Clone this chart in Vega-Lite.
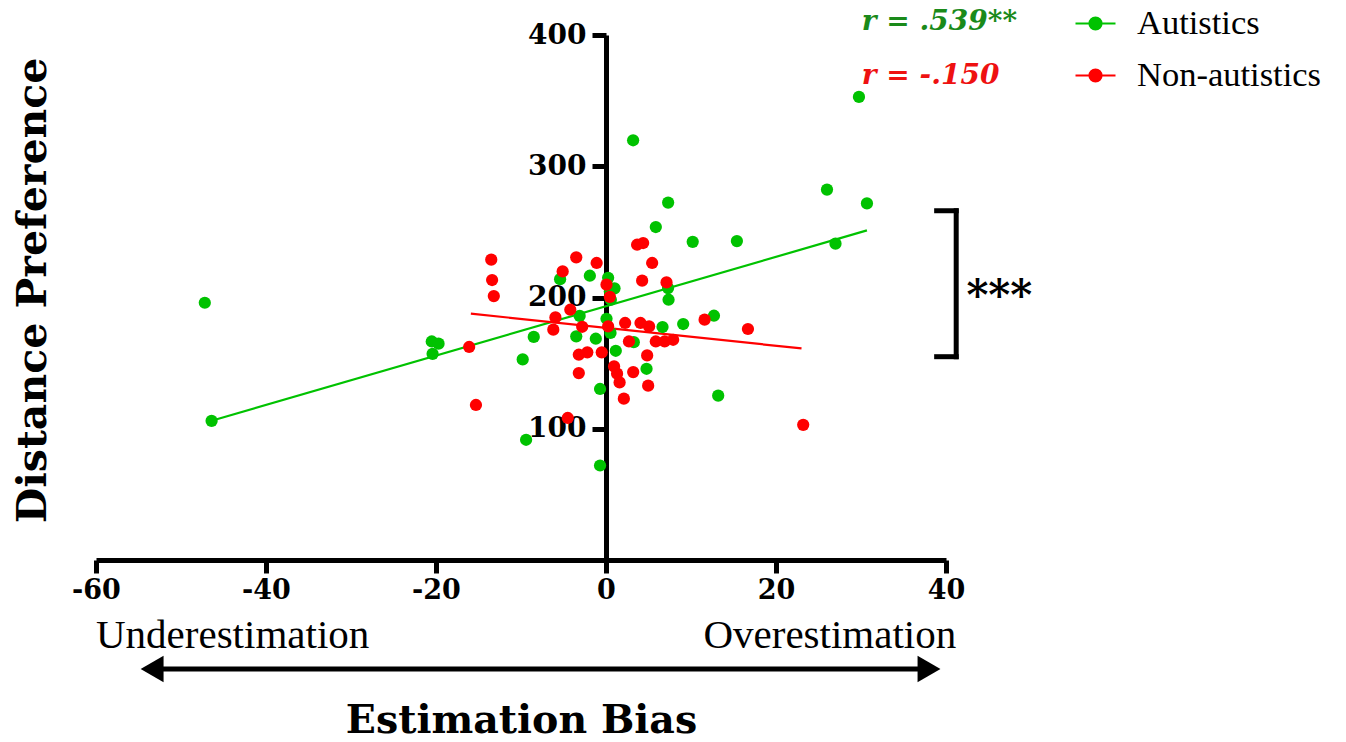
{
  "$schema": "https://vega.github.io/schema/vega-lite/v6.json",
  "autosize": "none",
  "width": 850,
  "height": 525,
  "padding": {"left": 96, "top": 35, "right": 400, "bottom": 182},
  "background": "white",
  "config": {"view": {"stroke": null}},
  "datasets": {
    "pts": [
      {"group": "Autistics", "bias": -47.2, "pref": 196},
      {"group": "Autistics", "bias": -46.4, "pref": 106},
      {"group": "Autistics", "bias": -20.5, "pref": 166.5},
      {"group": "Autistics", "bias": -19.7, "pref": 164.8},
      {"group": "Autistics", "bias": -20.4, "pref": 157},
      {"group": "Autistics", "bias": -9.8, "pref": 152.8},
      {"group": "Autistics", "bias": -8.5, "pref": 170},
      {"group": "Autistics", "bias": -5.4, "pref": 214},
      {"group": "Autistics", "bias": -1.9, "pref": 216.6},
      {"group": "Autistics", "bias": -3.1, "pref": 186},
      {"group": "Autistics", "bias": -3.5, "pref": 170.4},
      {"group": "Autistics", "bias": -1.2, "pref": 168.6},
      {"group": "Autistics", "bias": 0.25, "pref": 215},
      {"group": "Autistics", "bias": 1.0, "pref": 207},
      {"group": "Autistics", "bias": 0.45, "pref": 204.6},
      {"group": "Autistics", "bias": 0.57, "pref": 198.3},
      {"group": "Autistics", "bias": 0.06, "pref": 183.8},
      {"group": "Autistics", "bias": 0.53, "pref": 173},
      {"group": "Autistics", "bias": 1.15, "pref": 159.4},
      {"group": "Autistics", "bias": -0.7, "pref": 130.3},
      {"group": "Autistics", "bias": -9.4, "pref": 91.6},
      {"group": "Autistics", "bias": -0.7, "pref": 72},
      {"group": "Autistics", "bias": 3.27, "pref": 166},
      {"group": "Autistics", "bias": 4.77, "pref": 145.7},
      {"group": "Autistics", "bias": 5.86, "pref": 253.7},
      {"group": "Autistics", "bias": 10.2, "pref": 242.4},
      {"group": "Autistics", "bias": 7.3, "pref": 207.2},
      {"group": "Autistics", "bias": 7.36, "pref": 198.3},
      {"group": "Autistics", "bias": 6.65, "pref": 177.5},
      {"group": "Autistics", "bias": 9.08, "pref": 179.8},
      {"group": "Autistics", "bias": 3.19, "pref": 319.8},
      {"group": "Autistics", "bias": 7.31, "pref": 272.3},
      {"group": "Autistics", "bias": 15.4, "pref": 243},
      {"group": "Autistics", "bias": 26.0, "pref": 282.2},
      {"group": "Autistics", "bias": 30.7, "pref": 271.7},
      {"group": "Autistics", "bias": 27.0, "pref": 241},
      {"group": "Autistics", "bias": 12.7, "pref": 186.1},
      {"group": "Autistics", "bias": 13.2, "pref": 125.2},
      {"group": "Autistics", "bias": 29.76, "pref": 352.8},
      {"group": "Non-autistics", "bias": -13.5, "pref": 228.8},
      {"group": "Non-autistics", "bias": -13.4, "pref": 213.3},
      {"group": "Non-autistics", "bias": -13.2, "pref": 201.1},
      {"group": "Non-autistics", "bias": -16.1, "pref": 162.3},
      {"group": "Non-autistics", "bias": -15.3, "pref": 118.1},
      {"group": "Non-autistics", "bias": -3.5, "pref": 230.6},
      {"group": "Non-autistics", "bias": -5.1, "pref": 219.9},
      {"group": "Non-autistics", "bias": -1.1, "pref": 226.3},
      {"group": "Non-autistics", "bias": -4.2, "pref": 190.7},
      {"group": "Non-autistics", "bias": -5.95, "pref": 184.8},
      {"group": "Non-autistics", "bias": -6.2, "pref": 175.5},
      {"group": "Non-autistics", "bias": -2.8, "pref": 177.7},
      {"group": "Non-autistics", "bias": -3.2, "pref": 156.4},
      {"group": "Non-autistics", "bias": -2.2, "pref": 158.2},
      {"group": "Non-autistics", "bias": -0.5, "pref": 158.2},
      {"group": "Non-autistics", "bias": -3.2, "pref": 142.4},
      {"group": "Non-autistics", "bias": -4.5, "pref": 108.2},
      {"group": "Non-autistics", "bias": 0.06, "pref": 209.8},
      {"group": "Non-autistics", "bias": 0.45, "pref": 200.5},
      {"group": "Non-autistics", "bias": 0.25, "pref": 178},
      {"group": "Non-autistics", "bias": 0.95, "pref": 147.5},
      {"group": "Non-autistics", "bias": 1.3, "pref": 142},
      {"group": "Non-autistics", "bias": 1.6, "pref": 135.3},
      {"group": "Non-autistics", "bias": 2.1, "pref": 122.9},
      {"group": "Non-autistics", "bias": 3.2, "pref": 143.2},
      {"group": "Non-autistics", "bias": 2.25, "pref": 180.6},
      {"group": "Non-autistics", "bias": 2.7, "pref": 166.5},
      {"group": "Non-autistics", "bias": 4.06, "pref": 180.6},
      {"group": "Non-autistics", "bias": 5.07, "pref": 178},
      {"group": "Non-autistics", "bias": 5.86, "pref": 166.5},
      {"group": "Non-autistics", "bias": 6.9, "pref": 166.5},
      {"group": "Non-autistics", "bias": 7.9, "pref": 167.8},
      {"group": "Non-autistics", "bias": 4.84, "pref": 155.9},
      {"group": "Non-autistics", "bias": 4.96, "pref": 132.8},
      {"group": "Non-autistics", "bias": 4.25, "pref": 212.8},
      {"group": "Non-autistics", "bias": 5.43, "pref": 226.3},
      {"group": "Non-autistics", "bias": 3.66, "pref": 240.2},
      {"group": "Non-autistics", "bias": 4.37, "pref": 241.5},
      {"group": "Non-autistics", "bias": 7.12, "pref": 211.5},
      {"group": "Non-autistics", "bias": 11.6, "pref": 183.1},
      {"group": "Non-autistics", "bias": 16.7, "pref": 176},
      {"group": "Non-autistics", "bias": 23.2, "pref": 103}
    ],
    "fits": [
      {"group": "Autistics", "bias": -46.4, "pref": 106.1},
      {"group": "Autistics", "bias": 30.7, "pref": 251.1},
      {"group": "Non-autistics", "bias": -15.9, "pref": 187.7},
      {"group": "Non-autistics", "bias": 23.0, "pref": 161.2}
    ]
  },
  "layer": [
    {
      "data": {"name": "fits"},
      "mark": {"type": "line", "strokeWidth": 2.2},
      "encoding": {
        "x": {"field": "bias", "type": "quantitative", "scale": {"domain": [-60, 40], "nice": false, "zero": false},
          "axis": {
            "values": [-60, -40, -20, 0, 20, 40], "grid": false,
            "domainWidth": 5, "domainColor": "black", "tickWidth": 5, "tickSize": 13, "tickColor": "black",
            "labelFont": "DejaVu Serif", "labelFontWeight": "bold", "labelFontSize": 27, "labelColor": "black",
            "labelPadding": 4, "labelFlush": false, "labelOverlap": false, "labelExpr": "'' + datum.value",
            "title": "Estimation Bias", "titleFont": "DejaVu Serif", "titleFontSize": 39.5, "titleFontWeight": "bold",
            "titleColor": "black", "titleY": 160, "titleBaseline": "middle"
          }},
        "y": {"field": "pref", "type": "quantitative", "scale": {"domain": [0, 400], "nice": false},
          "axis": {
            "values": [100, 200, 300, 400], "grid": false, "offset": -510,
            "domainWidth": 5, "domainColor": "black", "tickWidth": 5, "tickSize": 14, "tickColor": "black",
            "labelFont": "DejaVu Serif", "labelFontWeight": "bold", "labelFontSize": 28, "labelColor": "black",
            "labelPadding": 6, "labelFlush": false, "labelOverlap": false,
            "title": "Distance Preference", "titleFont": "DejaVu Serif", "titleFontSize": 41, "titleFontWeight": "bold",
            "titleColor": "black", "titleX": -573, "titleY": 255, "titleAngle": -90, "titleAlign": "center", "titleBaseline": "middle"
          }},
        "color": {"field": "group", "type": "nominal",
          "scale": {"domain": ["Autistics", "Non-autistics"], "range": ["#00c200", "#ff0000"]},
          "legend": {
            "title": null, "orient": "none", "legendX": 978, "legendY": -33,
            "symbolType": "M-1,0H1M-0.3,0A0.3,0.3 0 1,0 0.3,0A0.3,0.3 0 1,0 -0.3,0Z",
            "symbolSize": 1600, "symbolStrokeWidth": 2.2, "labelOffset": 20, "rowPadding": 14, "padding": 0,
            "labelFont": "Liberation Serif", "labelFontSize": 34.5, "labelColor": "black", "labelLimit": 400,
            "encode": {"symbols": {"update": {
              "stroke": {"scale": "color", "field": "value"},
              "fill": {"scale": "color", "field": "value"},
              "opacity": {"value": 1}
            }}}
          }}
      }
    },
    {
      "data": {"name": "pts"},
      "mark": {"type": "circle", "size": 150, "opacity": 1},
      "encoding": {
        "x": {"field": "bias", "type": "quantitative"},
        "y": {"field": "pref", "type": "quantitative"},
        "color": {"field": "group", "type": "nominal"}
      }
    },
    {
      "data": {"values": [{"bias": 30.1, "pref": 410, "label": "r = .539**"}]},
      "mark": {"type": "text", "align": "left", "baseline": "middle", "font": "DejaVu Serif", "fontWeight": "bold", "fontStyle": "italic", "fontSize": 28, "color": "#1a8a1a"},
      "encoding": {"x": {"field": "bias", "type": "quantitative"}, "y": {"field": "pref", "type": "quantitative"}, "text": {"field": "label"}}
    },
    {
      "data": {"values": [{"bias": 30.1, "pref": 369, "label": "r = -.150"}]},
      "mark": {"type": "text", "align": "left", "baseline": "middle", "font": "DejaVu Serif", "fontWeight": "bold", "fontStyle": "italic", "fontSize": 28, "color": "#ee1111"},
      "encoding": {"x": {"field": "bias", "type": "quantitative"}, "y": {"field": "pref", "type": "quantitative"}, "text": {"field": "label"}}
    },
    {
      "data": {"values": [
        {"x1": 38.9, "x2": 41.2, "y1": 266.1, "y2": 266.1},
        {"x1": 41.2, "x2": 41.2, "y1": 266.1, "y2": 154.9},
        {"x1": 38.9, "x2": 41.2, "y1": 154.9, "y2": 154.9}
      ]},
      "mark": {"type": "rule", "strokeWidth": 5, "color": "black", "strokeCap": "square"},
      "encoding": {"x": {"field": "x1", "type": "quantitative"}, "x2": {"field": "x2"}, "y": {"field": "y1", "type": "quantitative"}, "y2": {"field": "y2"}}
    },
    {
      "data": {"values": [{"bias": 42.4, "pref": 205, "label": "***"}]},
      "mark": {"type": "text", "align": "left", "baseline": "middle", "font": "DejaVu Serif", "fontWeight": "bold", "fontSize": 42, "color": "black", "dy": 6},
      "encoding": {"x": {"field": "bias", "type": "quantitative"}, "y": {"field": "pref", "type": "quantitative"}, "text": {"field": "label"}}
    },
    {
      "data": {"values": [{"x1": -52.5, "x2": 36.9, "y1": -83}]},
      "mark": {"type": "rule", "strokeWidth": 5, "color": "black"},
      "encoding": {"x": {"field": "x1", "type": "quantitative"}, "x2": {"field": "x2"}, "y": {"field": "y1", "type": "quantitative"}}
    },
    {
      "data": {"values": [{"bias": -53.4, "pref": -83, "dir": "left"}]},
      "mark": {"type": "point", "shape": "triangle-left", "filled": true, "size": 700, "color": "black", "opacity": 1},
      "encoding": {"x": {"field": "bias", "type": "quantitative"}, "y": {"field": "pref", "type": "quantitative"}}
    },
    {
      "data": {"values": [{"bias": 38.0, "pref": -83, "dir": "right"}]},
      "mark": {"type": "point", "shape": "triangle-right", "filled": true, "size": 700, "color": "black", "opacity": 1},
      "encoding": {"x": {"field": "bias", "type": "quantitative"}, "y": {"field": "pref", "type": "quantitative"}}
    },
    {
      "data": {"values": [{"bias": -60, "pref": -57.8, "label": "Underestimation"}]},
      "mark": {"type": "text", "align": "left", "baseline": "middle", "font": "Liberation Serif", "fontSize": 41, "color": "black"},
      "encoding": {"x": {"field": "bias", "type": "quantitative"}, "y": {"field": "pref", "type": "quantitative"}, "text": {"field": "label"}}
    },
    {
      "data": {"values": [{"bias": 41.2, "pref": -57.8, "label": "Overestimation"}]},
      "mark": {"type": "text", "align": "right", "baseline": "middle", "font": "Liberation Serif", "fontSize": 41, "color": "black"},
      "encoding": {"x": {"field": "bias", "type": "quantitative"}, "y": {"field": "pref", "type": "quantitative"}, "text": {"field": "label"}}
    }
  ]
}
